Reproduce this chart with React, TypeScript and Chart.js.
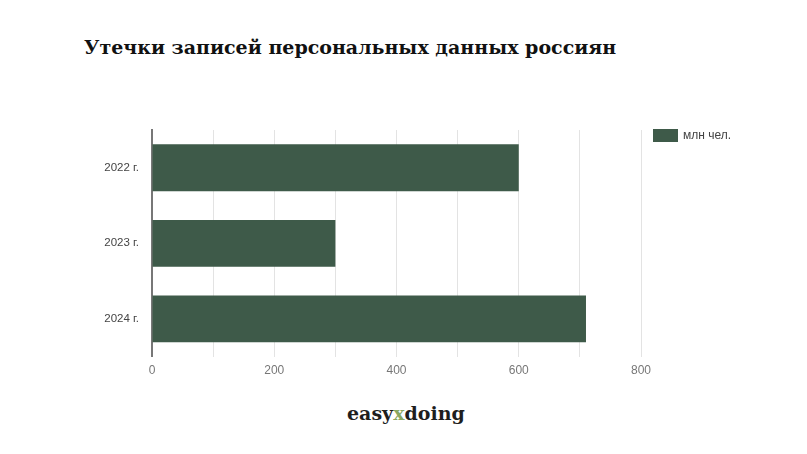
import { useEffect, useRef } from "react";
import { Chart, registerables } from "chart.js";
Chart.register(...registerables);

const years = ["2022 г.", "2023 г.", "2024 г."];
const leaks = [600, 300, 710];
const seriesLabel = "млн чел.";
const xLabels = [0, 200, 400, 600, 800];

const barColor = "#3e5a49";
const sans = "'Liberation Sans', Arial, sans-serif";
const serif = "'DejaVu Serif', serif";

const LeaksChart = () => {
  const canvasRef = useRef<HTMLCanvasElement>(null);

  useEffect(() => {
    const canvas = canvasRef.current;
    if (!canvas) return;
    const chart = new Chart(canvas, {
      type: "bar",
      data: {
        labels: years,
        datasets: [
          {
            label: seriesLabel,
            data: leaks,
            backgroundColor: barColor,
            barPercentage: 0.62,
            categoryPercentage: 1,
          },
        ],
      },
      options: {
        indexAxis: "y",
        animation: false,
        responsive: true,
        maintainAspectRatio: false,
        layout: { padding: { top: 30, right: 166, bottom: 2, left: 0 } },
        plugins: {
          legend: { display: false },
          tooltip: { enabled: false },
        },
        scales: {
          x: {
            min: 0,
            max: 800,
            ticks: {
              stepSize: 100,
              autoSkip: false,
              maxRotation: 0,
              padding: 7,
              color: "#777",
              font: { family: sans, size: 12 },
              callback: (v: any) => (xLabels.includes(Number(v)) ? String(v) : ""),
            },
            grid: {
              drawTicks: false,
              color: (ctx: any) => (ctx.tick && ctx.tick.value === 0 ? "rgba(0,0,0,0)" : "#e3e3e3"),
            },
            border: { display: false },
          },
          y: {
            ticks: {
              padding: 13,
              color: "#444",
              font: { family: sans, size: 11.5 },
            },
            grid: { display: false, drawTicks: false },
            border: { color: "#777", width: 2 },
            afterFit: (scale: any) => {
              scale.width = 152;
            },
          },
        },
      },
    });
    return () => chart.destroy();
  }, []);

  return <canvas ref={canvasRef}></canvas>;
};

export default function App() {
  return (
    <div
      style={{
        position: "absolute",
        left: 0,
        top: 0,
        width: 807,
        height: 454,
        background: "#fff",
        overflow: "hidden",
      }}
    >
      <div
        style={{
          position: "absolute",
          left: 84,
          top: 36,
          fontFamily: serif,
          fontWeight: "bold",
          fontSize: 19,
          color: "#111",
          whiteSpace: "nowrap",
        }}
      >
        Утечки записей персональных данных россиян
      </div>

      <div style={{ position: "absolute", left: 0, top: 100, width: 807, height: 287 }}>
        <LeaksChart />
      </div>

      {/* legend */}
      <div
        style={{
          position: "absolute",
          left: 653,
          top: 129,
          width: 25,
          height: 13,
          background: barColor,
        }}
      />
      <div
        style={{
          position: "absolute",
          left: 683,
          top: 128,
          lineHeight: "15px",
          fontFamily: sans,
          fontSize: 12,
          color: "#444",
          whiteSpace: "nowrap",
        }}
      >
        {seriesLabel}
      </div>

      {/* logo */}
      <div
        style={{
          position: "absolute",
          left: 347,
          top: 402,
          fontFamily: serif,
          fontWeight: "bold",
          fontSize: 19,
          color: "#1e1e1e",
          whiteSpace: "nowrap",
        }}
      >
        easy<span style={{ color: "#8aa860" }}>x</span>doing
      </div>
    </div>
  );
}
